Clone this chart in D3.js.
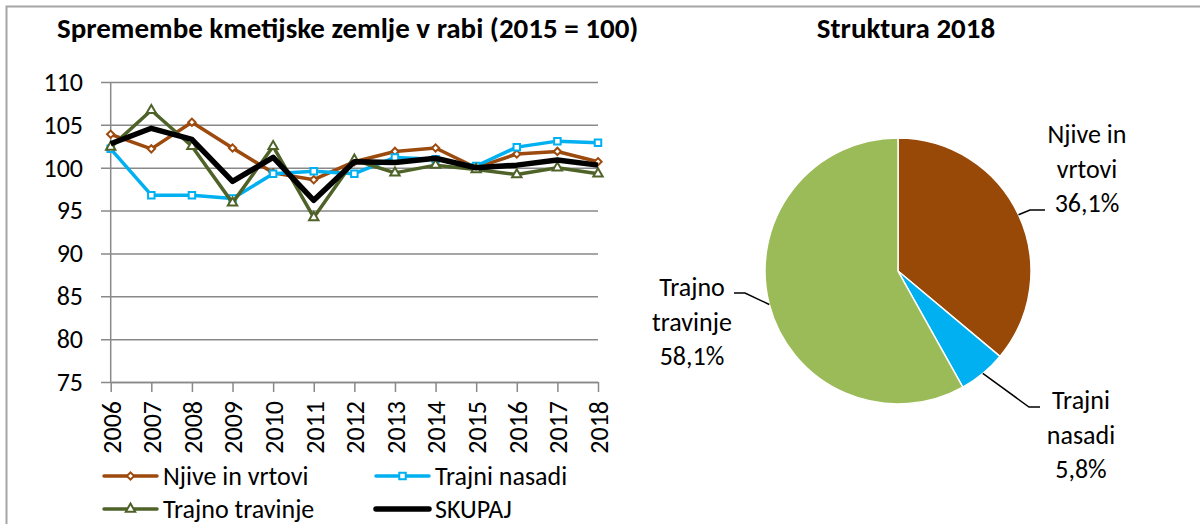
<!DOCTYPE html>
<html>
<head>
<meta charset="utf-8">
<script src="https://cdn.jsdelivr.net/npm/d3@7"></script>
<style>
  body { margin: 0; background: #fff; }
  text { font-family: Carlito, Calibri, 'Liberation Sans', Arial, sans-serif; fill: #000; }
</style>
</head>
<body>
<div id="chart"></div>
<script>
// Data
let years = ['2006', '2007', '2008', '2009', '2010', '2011', '2012', '2013', '2014', '2015', '2016', '2017', '2018'];
let njive = [103.9, 102.2, 105.3, 102.3, 99.4, 98.6, 100.7, 101.9, 102.3, 100.0, 101.6, 101.9, 100.7];
let nasadi = [102.2, 96.8, 96.8, 96.4, 99.3, 99.6, 99.3, 101.2, 101.0, 100.2, 102.4, 103.1, 102.9];
let travinje = [102.4, 106.7, 102.5, 95.9, 102.5, 94.2, 100.9, 99.4, 100.3, 99.8, 99.2, 100.0, 99.3];
let skupaj = [102.8, 104.6, 103.3, 98.4, 101.2, 96.2, 100.7, 100.6, 101.1, 100.0, 100.3, 100.9, 100.3];
let yTicks = [75, 80, 85, 90, 95, 100, 105, 110];

let pieNames = ['Njive in vrtovi', 'Trajni nasadi', 'Trajno travinje'];
let pieValues = [36.1, 5.8, 58.1];
let pieLabels = ['36,1%', '5,8%', '58,1%'];

// SVG setup
let svg = d3.select('#chart').append('svg')
  .attr('width', 1200)
  .attr('height', 524);

// frame (left + top only visible)
svg.append('path')
  .attr('d', 'M6.5,524 V6.5 H1200')
  .attr('fill', 'none')
  .attr('stroke', '#a6a6a6')
  .attr('stroke-width', 2);

// Titles
svg.append('text')
  .attr('x', 57).attr('y', 38)
  .attr('font-size', '29px').attr('font-weight', 'bold')
  .text('Spremembe kmetijske zemlje v rabi (2015 = 100)');

svg.append('text')
  .attr('x', 906).attr('y', 38)
  .attr('text-anchor', 'middle')
  .attr('font-size', '29px').attr('font-weight', 'bold')
  .text('Struktura 2018');

// Line chart scales
let x = d3.scalePoint().domain(years).range([110.7, 598]);
let y = d3.scaleLinear().domain([75, 110]).range([382, 82]);

// y grid + labels
let yAxis = svg.append('g')
  .attr('transform', 'translate(101,0)')
  .call(d3.axisLeft(y).tickValues(yTicks).tickSizeInner(-(598 - 101)).tickSizeOuter(0).tickPadding(18));
yAxis.select('.domain').remove();
yAxis.selectAll('line').attr('stroke', '#898989').attr('stroke-width', 1.5);
yAxis.selectAll('text').attr('font-size', '26px').attr('font-family', null);

// vertical axis line
svg.append('line')
  .attr('x1', x(years[0])).attr('x2', x(years[0]))
  .attr('y1', y(110)).attr('y2', y(75))
  .attr('stroke', '#898989').attr('stroke-width', 1.5);

// x axis
let xAxis = svg.append('g')
  .attr('transform', `translate(0, ${y(75)})`)
  .call(d3.axisBottom(x).tickSizeInner(10).tickSizeOuter(0));
xAxis.select('.domain').attr('stroke', '#898989').attr('stroke-width', 1.5);
xAxis.selectAll('line').attr('stroke', '#898989').attr('stroke-width', 1.5);
xAxis.selectAll('text')
  .attr('font-size', '26px').attr('font-family', null)
  .attr('transform', 'rotate(-90)')
  .attr('text-anchor', 'end')
  .attr('x', -19).attr('y', 0).attr('dy', '0.36em');

// series
let series = [
  { name: 'Njive in vrtovi', values: njive, color: '#9c4a0e', width: 3.5, symbol: d3.symbolDiamond2 || d3.symbolDiamond, size: 34 },
  { name: 'Trajni nasadi', values: nasadi, color: '#00b0f0', width: 3.5, symbol: d3.symbolSquare, size: 42 },
  { name: 'Trajno travinje', values: travinje, color: '#4f6228', width: 3.5, symbol: d3.symbolTriangle, size: 38 },
  { name: 'SKUPAJ', values: skupaj, color: '#000000', width: 5.5, symbol: null }
];

let line = d3.line()
  .x((d, i) => x(years[i]))
  .y(d => y(d));

series.forEach(function(s) {
  svg.append('path')
    .datum(s.values)
    .attr('d', line)
    .attr('fill', 'none')
    .attr('stroke', s.color)
    .attr('stroke-width', s.width)
    .attr('stroke-linejoin', 'round');

  if (s.symbol) {
    svg.selectAll(null)
      .data(s.values)
      .enter()
      .append('path')
      .attr('transform', (d, i) => `translate(${x(years[i])}, ${y(d)})`)
      .attr('d', d3.symbol().type(s.symbol).size(s.size))
      .attr('fill', '#fff')
      .attr('stroke', s.color)
      .attr('stroke-width', 2);
  }
});

// legend
let legendPos = [[104, 476], [376, 476], [104, 509], [376, 509]];
series.forEach(function(s, i) {
  let g = svg.append('g').attr('transform', `translate(${legendPos[i][0]}, ${legendPos[i][1]})`);
  g.append('line')
    .attr('x1', 0).attr('x2', 53)
    .attr('stroke', s.color)
    .attr('stroke-width', s.width)
    .attr('stroke-linecap', 'round');
  if (s.symbol) {
    g.append('path')
      .attr('transform', 'translate(26.5,0)')
      .attr('d', d3.symbol().type(s.symbol).size(s.size))
      .attr('fill', '#fff')
      .attr('stroke', s.color)
      .attr('stroke-width', 2);
  }
  g.append('text')
    .attr('x', 59).attr('y', 0).attr('dy', '0.35em')
    .attr('font-size', '26px')
    .text(s.name);
});

// Pie
let cx = 898, cy = 271, r = 133;
let pieColors = ['#984807', '#00b0f0', '#9bbb59'];
let arcs = d3.pie().sort(null).value(d => d)(pieValues);
let arc = d3.arc().innerRadius(0).outerRadius(r);

let pieG = svg.append('g').attr('transform', `translate(${cx}, ${cy})`);
pieG.selectAll('path')
  .data(arcs)
  .enter()
  .append('path')
  .attr('d', arc)
  .attr('fill', (d, i) => pieColors[i])
  .attr('stroke', '#fff')
  .attr('stroke-width', 1.5);

// pie labels: lines, center x, first line y, elbow, end of leader
let pieLabelLayout = [
  { lines: ['Njive in', 'vrtovi', pieLabels[0]], x: 1087, y: 134, elbow: [1030, 210], end: [1045, 210] },
  { lines: ['Trajni', 'nasadi', pieLabels[1]], x: 1081, y: 400, elbow: [1029, 407], end: [1040, 407] },
  { lines: ['Trajno', 'travinje', pieLabels[2]], x: 692, y: 287, elbow: [745, 293], end: [734, 293] }
];

arcs.forEach(function(a, i) {
  let lay = pieLabelLayout[i];
  let mid = (a.startAngle + a.endAngle) / 2;
  let px = cx + r * Math.sin(mid);
  let py = cy - r * Math.cos(mid);
  svg.append('polyline')
    .attr('points', `${px},${py} ${lay.elbow[0]},${lay.elbow[1]} ${lay.end[0]},${lay.end[1]}`)
    .attr('fill', 'none')
    .attr('stroke', '#000')
    .attr('stroke-width', 1.5);
  let t = svg.append('text')
    .attr('text-anchor', 'middle')
    .attr('font-size', '26px');
  lay.lines.forEach(function(l, j) {
    t.append('tspan')
      .attr('x', lay.x)
      .attr('y', lay.y + j * 34.5)
      .attr('dy', '0.35em')
      .text(l);
  });
});
</script>
</body>
</html>
